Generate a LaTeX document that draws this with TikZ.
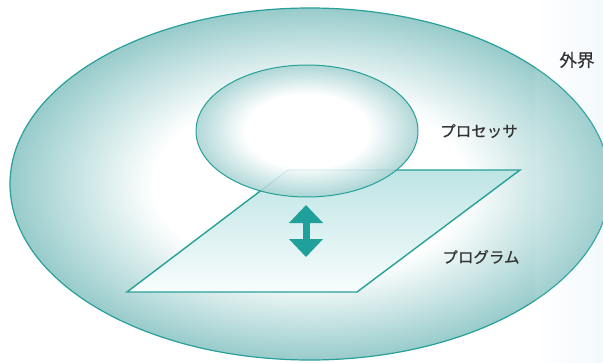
\documentclass[tikz,border=0pt]{standalone}
\usepackage{fontspec}
\newfontfamily\jp{Noto Sans CJK JP}[FakeBold=0.5]
\usetikzlibrary{shapes.geometric,arrows.meta}
\definecolor{tealline}{RGB}{38,160,152}
\definecolor{tealedge}{RGB}{152,203,203}
\definecolor{tealsoft}{RGB}{168,211,211}
\definecolor{planetop}{RGB}{190,228,228}
\definecolor{planebot}{RGB}{248,253,253}
\definecolor{arrowteal}{RGB}{31,160,154}
\definecolor{strip}{RGB}{243,249,252}
\definecolor{txt}{RGB}{50,50,50}
\pgfdeclareradialshading{outerglow}{\pgfpoint{0bp}{0bp}}{color(0bp)=(white); color(13bp)=(white); color(25bp)=(tealedge); color(50bp)=(tealedge)}
\pgfdeclareradialshading{innerglow}{\pgfpoint{0bp}{0bp}}{color(0bp)=(white); color(14bp)=(white); color(25bp)=(tealsoft); color(50bp)=(tealsoft)}
\tikzset{
  bigell/.style={ellipse, inner sep=0pt, draw=tealline, line width=1.2pt, shading=outerglow},
  smallell/.style={ellipse, inner sep=0pt, draw=tealline, line width=1pt, shading=innerglow, fill opacity=0.88},
  plane/.style={draw=tealline, line width=1.4pt, top color=planetop, bottom color=planebot, line join=miter},
  lbl/.style={font=\jp\fontsize{15.5}{18}\selectfont, text=txt, inner sep=0pt},
  dblarrow/.style={draw=arrowteal, line width=7pt, {Triangle[width=33pt,length=18pt]}-{Triangle[width=33pt,length=18pt]}}
}
\begin{document}
\begin{tikzpicture}[x=1pt,y=-1pt]
\useasboundingbox (0,0) rectangle (603,362);
\clip (0,0) rectangle (603,362);
\shade[left color=white, right color=strip] (535,0) rectangle (603,362);
\node[bigell, minimum width=600pt, minimum height=352pt] (world) at (310,184) {};
\fill[white, opacity=0.08] (535,0) rectangle (603,362);
\coordinate (p1) at (288,170);
\coordinate (p2) at (520,170);
\coordinate (p3) at (357,292);
\coordinate (p4) at (127,292);
\path[plane] (p1) -- (p2) -- (p3) -- (p4) -- cycle;
\node[smallell, minimum width=222pt, minimum height=132pt] (proc) at (307,131) {};
\coordinate (atop) at (306,205);
\coordinate (abot) at (306,257);
\draw[dblarrow] (atop) -- (abot);
\node[lbl, font=\jp\fontsize{17.5}{20}\selectfont] (lworld) at (577,60) {外界};
\node[lbl] (lproc) at (479,131) {プロセッサ};
\node[lbl] (lprog) at (481,257) {プログラム};
\end{tikzpicture}
\end{document}
